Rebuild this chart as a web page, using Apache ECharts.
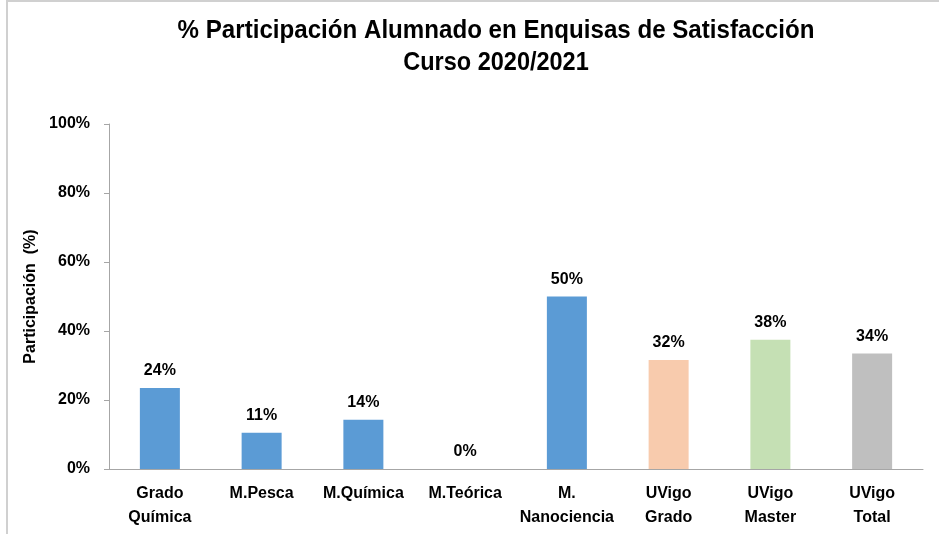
<!DOCTYPE html>
<html>
<head>
<meta charset="utf-8">
<script src="https://cdn.jsdelivr.net/npm/echarts@6/dist/echarts.min.js"></script>
<style>
  html, body { margin: 0; padding: 0; background: #fff; }
  #chart { width: 939px; height: 534px; }
</style>
</head>
<body>
<div id="chart"></div>
<script>
const categories = ['Grado\nQuímica', 'M.Pesca', 'M.Química', 'M.Teórica', 'M.\nNanociencia', 'UVigo\nGrado', 'UVigo\nMaster', 'UVigo\nTotal']
const participation = [23.5, 10.5, 14.3, 0, 50, 31.6, 37.5, 33.5]
const barColors = ['#5B9BD5', '#5B9BD5', '#5B9BD5', '#5B9BD5', '#5B9BD5', '#F8CBAD', '#C5E0B4', '#BFBFBF']
const yTicks = [0, 20, 40, 60, 80, 100]

const font = '"Liberation Sans Narrow", "Liberation Sans", Arial, sans-serif'
const chart = echarts.init(document.getElementById('chart'))

const option = {
  backgroundColor: '#fff',
  animation: false,
  graphic: [
    {
      type: 'rect',
      shape: { x: 7, y: 1, width: 940, height: 540 },
      style: { fill: 'none', stroke: '#D0D0D0', lineWidth: 2 }
    },
    {
      type: 'text',
      x: 496,
      y: 31,
      scaleX: 0.965,
      style: {
        text: '% Participación Alumnado en Enquisas de Satisfacción',
        font: 'bold 25px ' + font,
        fill: '#000',
        textAlign: 'center',
        textVerticalAlign: 'middle'
      }
    },
    {
      type: 'text',
      x: 496,
      y: 63,
      scaleX: 0.94,
      style: {
        text: 'Curso 2020/2021',
        font: 'bold 25px ' + font,
        fill: '#000',
        textAlign: 'center',
        textVerticalAlign: 'middle'
      }
    }
  ],
  grid: {
    left: 109,
    right: 16,
    top: 124,
    bottom: 65
  },
  xAxis: {
    type: 'category',
    data: categories,
    axisLine: { lineStyle: { color: '#A6A6A6' } },
    axisTick: { length: 6, lineStyle: { color: '#A6A6A6' } },
    axisLabel: {
      color: '#000',
      fontFamily: font,
      fontWeight: 'bold',
      fontSize: 16,
      lineHeight: 24,
      margin: 13,
      interval: 0
    }
  },
  yAxis: {
    type: 'value',
    min: yTicks[0],
    max: yTicks[yTicks.length - 1],
    interval: 20,
    name: 'Participación  (%)',
    nameLocation: 'middle',
    nameGap: 60,
    nameTextStyle: {
      color: '#000',
      fontFamily: font,
      fontWeight: 'bold',
      fontSize: 16
    },
    axisLine: { show: true, lineStyle: { color: '#A6A6A6' } },
    axisTick: { show: true, length: 5, lineStyle: { color: '#A6A6A6' } },
    splitLine: { show: false },
    axisLabel: {
      color: '#000',
      fontFamily: font,
      fontWeight: 'bold',
      fontSize: 16,
      margin: 19,
      padding: [5, 0, 0, 0],
      formatter: v => v + '%'
    }
  },
  series: [
    {
      type: 'bar',
      barWidth: 40,
      data: participation.map((v, i) => ({
        value: v,
        itemStyle: { color: barColors[i] }
      })),
      label: {
        show: true,
        position: 'top',
        distance: 9,
        color: '#000',
        fontFamily: font,
        fontWeight: 'bold',
        fontSize: 16,
        formatter: p => Math.round(p.value) + '%'
      }
    }
  ]
}

chart.setOption(option)
</script>
</body>
</html>
